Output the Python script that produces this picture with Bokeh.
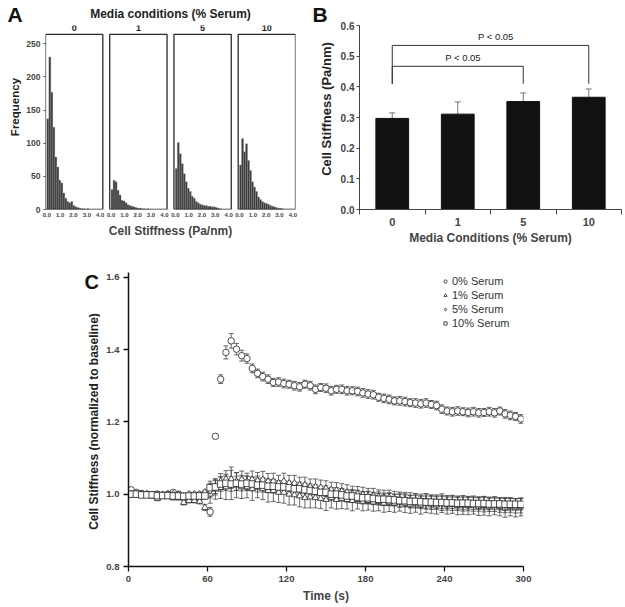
from bokeh.plotting import figure
from bokeh.models import (ColumnDataSource, FixedTicker, Label, Legend, LegendItem,
                          Whisker, TeeHead, Range1d)
from bokeh.layouts import column, row
from bokeh.embed import file_html
from bokeh.resources import INLINE

FONT = "Liberation Sans"

# ---------------- Panel A data (histograms) ----------------
serum_conditions = ["0", "1", "5", "10"]
bin_width = 0.15
hist_0 = [137, 230, 177, 124, 79, 64, 44, 40, 25, 17, 12, 10, 12, 6, 4, 3, 2, 1, 1, 0, 1]
hist_1 = [30, 44, 42, 29, 22, 14, 13, 10, 7, 6, 5, 4, 3, 2, 2, 1, 1, 0, 1]
hist_5 = [62, 101, 84, 69, 54, 42, 32, 27, 20, 17, 12, 10, 8, 7, 6, 6, 5, 5, 4, 4, 3, 2, 1]
hist_10 = [67, 107, 87, 99, 74, 59, 42, 34, 27, 19, 15, 12, 10, 9, 8, 6, 5, 4, 3, 2, 2, 1]
hists = [hist_0, hist_1, hist_5, hist_10]
freq_ticks = [0, 50, 100, 150, 200, 250]
stiff_ticks = [0, 1, 2, 3, 4]
stiff_tick_labels = ["0.0", "1.0", "2.0", "3.0", "4.0"]

# ---------------- Panel B data ----------------
serum_labels = ["0", "1", "5", "10"]
mean_stiffness = [0.297, 0.311, 0.352, 0.366]
sem_stiffness = [0.018, 0.040, 0.028, 0.027]
b_ticks = [0.0, 0.1, 0.2, 0.3, 0.4, 0.5, 0.6]
comparisons = [(0, 3), (0, 2)]
bracket_tops = [0.535, 0.467]
bracket_feet = [0.41, 0.41]
p_labels = ["P < 0.05", "P < 0.05"]

# ---------------- Panel C data ----------------
time_s = list(range(2, 300, 4))
series_names = ["0% Serum", "1% Serum", "5% Serum", "10% Serum"]
stiff_0 = [1.012, 1.005, 1.002, 1.000, 0.998, 1.000, 0.998, 1.000, 1.005, 1.000, 0.990, 0.995, 0.990, 0.990, 1.000,
           0.951, 1.160, 1.318, 1.392, 1.424, 1.401, 1.383, 1.375, 1.348, 1.334,
           1.325, 1.318, 1.309, 1.310, 1.306, 1.304, 1.300, 1.297, 1.304, 1.300,
           1.290, 1.295, 1.293, 1.286, 1.290, 1.290, 1.286, 1.286, 1.284, 1.280,
           1.277, 1.275, 1.268, 1.265, 1.262, 1.258, 1.258, 1.256, 1.253, 1.252,
           1.250, 1.252, 1.248, 1.245, 1.235, 1.230, 1.228, 1.230, 1.228, 1.226,
           1.228, 1.225, 1.226, 1.228, 1.225, 1.230, 1.222, 1.218, 1.215, 1.208]
sem_0 = [0.006, 0.005, 0.005, 0.004, 0.004, 0.005, 0.004, 0.004, 0.005, 0.004, 0.005, 0.005, 0.005, 0.005, 0.006,
         0.012, 0.005, 0.012, 0.018, 0.020, 0.016, 0.015, 0.013, 0.012, 0.012,
         0.012, 0.012, 0.011, 0.012, 0.012, 0.011, 0.012, 0.012, 0.011, 0.012,
         0.012, 0.011, 0.012, 0.012, 0.011, 0.012, 0.012, 0.011, 0.012, 0.012,
         0.012, 0.012, 0.011, 0.012, 0.012, 0.011, 0.012, 0.012, 0.011, 0.012,
         0.012, 0.012, 0.011, 0.012, 0.012, 0.011, 0.012, 0.012, 0.011, 0.012,
         0.012, 0.012, 0.011, 0.012, 0.012, 0.011, 0.012, 0.012, 0.011, 0.012]
stiff_1 = [1.000, 1.000, 0.998, 0.998, 0.995, 0.988, 0.995, 0.995, 0.990, 0.990, 0.977, 0.982, 0.982, 0.980, 0.963,
           1.000, 1.014, 1.018, 1.020, 1.030, 1.025, 1.020, 1.020, 1.015, 1.020,
           1.015, 1.010, 1.010, 1.005, 1.005, 1.000, 0.998, 0.995, 0.990, 0.992,
           0.990, 0.988, 0.985, 0.990, 0.985, 0.988, 0.985, 0.982, 0.985, 0.980,
           0.982, 0.978, 0.980, 0.975, 0.978, 0.975, 0.978, 0.975, 0.972, 0.975,
           0.970, 0.975, 0.972, 0.970, 0.975, 0.970, 0.972, 0.968, 0.970, 0.968,
           0.970, 0.966, 0.968, 0.965, 0.968, 0.965, 0.962, 0.965, 0.962, 0.965]
sem_1 = [0.005, 0.005, 0.005, 0.005, 0.005, 0.006, 0.005, 0.005, 0.006, 0.006, 0.007, 0.006, 0.006, 0.007, 0.008,
         0.025, 0.028, 0.030, 0.035, 0.045, 0.035, 0.032, 0.030, 0.032, 0.030,
         0.030, 0.032, 0.030, 0.028, 0.030, 0.030, 0.028, 0.030, 0.028, 0.030,
         0.028, 0.028, 0.030, 0.028, 0.026, 0.028, 0.026, 0.028, 0.026, 0.026,
         0.026, 0.025, 0.026, 0.025, 0.026, 0.025, 0.025, 0.026, 0.025, 0.025,
         0.025, 0.026, 0.025, 0.025, 0.026, 0.025, 0.025, 0.025, 0.026, 0.025,
         0.025, 0.025, 0.026, 0.025, 0.025, 0.025, 0.026, 0.025, 0.025, 0.025]
stiff_5 = [1.000, 1.000, 1.000, 1.000, 0.998, 1.000, 0.998, 1.000, 1.000, 0.998, 0.995, 1.000, 1.000, 1.000, 1.005,
           1.010, 1.020, 1.035, 1.041, 1.041, 1.035, 1.040, 1.035, 1.040, 1.037,
           1.040, 1.035, 1.035, 1.030, 1.035, 1.030, 1.030, 1.025, 1.025, 1.020,
           1.020, 1.018, 1.015, 1.012, 1.010, 1.008, 1.005, 1.000, 1.000, 0.998,
           0.995, 0.995, 0.992, 0.990, 0.990, 0.988, 0.985, 0.985, 0.983, 0.982,
           0.980, 0.980, 0.978, 0.978, 0.976, 0.976, 0.975, 0.975, 0.974, 0.974,
           0.973, 0.973, 0.972, 0.972, 0.972, 0.970, 0.970, 0.970, 0.968, 0.968]
sem_5 = [0.005, 0.005, 0.005, 0.005, 0.005, 0.005, 0.005, 0.005, 0.005, 0.005, 0.006, 0.005, 0.005, 0.006, 0.006,
         0.020, 0.022, 0.022, 0.024, 0.025, 0.024, 0.024, 0.023, 0.024, 0.023,
         0.023, 0.022, 0.023, 0.022, 0.023, 0.022, 0.022, 0.022, 0.022, 0.022,
         0.022, 0.021, 0.022, 0.021, 0.022, 0.021, 0.021, 0.022, 0.021, 0.021,
         0.021, 0.021, 0.020, 0.021, 0.021, 0.020, 0.021, 0.020, 0.021, 0.020,
         0.020, 0.021, 0.020, 0.020, 0.021, 0.020, 0.020, 0.020, 0.021, 0.020,
         0.020, 0.020, 0.021, 0.020, 0.020, 0.020, 0.021, 0.020, 0.020, 0.020]
stiff_10 = [1.000, 1.000, 0.998, 0.998, 0.998, 0.996, 0.996, 0.996, 0.995, 0.995, 0.994, 0.995, 0.995, 0.995, 0.995,
            1.018, 1.020, 1.028, 1.030, 1.028, 1.030, 1.028, 1.030, 1.028, 1.025,
            1.025, 1.022, 1.022, 1.020, 1.020, 1.018, 1.015, 1.015, 1.012, 1.010,
            1.008, 1.005, 1.005, 1.000, 1.000, 0.998, 0.995, 0.995, 0.992, 0.990,
            0.990, 0.988, 0.986, 0.986, 0.985, 0.984, 0.982, 0.982, 0.980, 0.980,
            0.979, 0.978, 0.978, 0.977, 0.977, 0.976, 0.976, 0.975, 0.975, 0.975,
            0.974, 0.974, 0.974, 0.973, 0.973, 0.973, 0.972, 0.972, 0.972, 0.972]
sem_10 = [0.006, 0.006, 0.005, 0.005, 0.005, 0.005, 0.005, 0.006, 0.006, 0.006, 0.006, 0.007, 0.007, 0.007, 0.008,
          0.018, 0.018, 0.020, 0.020, 0.020, 0.020, 0.019, 0.020, 0.019, 0.019,
          0.019, 0.018, 0.019, 0.018, 0.018, 0.018, 0.018, 0.018, 0.018, 0.018,
          0.018, 0.017, 0.018, 0.017, 0.018, 0.017, 0.017, 0.018, 0.017, 0.017,
          0.017, 0.017, 0.016, 0.017, 0.017, 0.016, 0.017, 0.016, 0.017, 0.016,
          0.016, 0.017, 0.016, 0.016, 0.017, 0.016, 0.016, 0.016, 0.017, 0.016,
          0.016, 0.016, 0.017, 0.016, 0.016, 0.016, 0.017, 0.016, 0.016, 0.016]
c_x_ticks = [0, 60, 120, 180, 240, 300]
c_y_ticks = [0.8, 1.0, 1.2, 1.4, 1.6]

# ---------------- layout constants (page pixels) ----------------
R1_H, R1_TOP, R1_BOT = 247, 24, 38          # row 1 height, top / bottom borders
R2_H, R2_TOP, R2_BOT = 359, 25, 40          # row 2
F1_T, F1_B = R1_TOP, R1_H - R1_BOT          # row-1 frame top/bottom (page y)
F2_T, F2_B = R1_H + R2_TOP, R1_H + R2_H - R2_BOT


def strip(x0, x1, y_top, y_bot, height, top, bottom):
    """Text-only figure; data coordinates equal page pixels."""
    s = figure(width=x1 - x0, height=height, x_range=Range1d(x0, x1), y_range=Range1d(y_bot, y_top),
               x_axis_type=None, y_axis_type=None, output_backend="svg", toolbar_location=None,
               min_border_left=0, min_border_right=0, min_border_top=top, min_border_bottom=bottom)
    s.outline_line_color = None
    s.grid.visible = False
    return s


def txt(p, x, y, text, size, bold=True, align="left", baseline="middle", angle=0, color="#111"):
    p.add_layout(Label(x=x, y=y, text=text, text_font=FONT, text_font_size=size,
                       text_font_style="bold" if bold else "normal", text_align=align,
                       text_baseline=baseline, angle=angle, angle_units="deg", text_color=color))


def letter_title(p, text, offset):
    p.title.text = text
    p.title.align = "left"
    p.title.offset = offset
    p.title.standoff = 0
    p.title.text_font = FONT
    p.title.text_font_size = "21px"
    p.title.text_font_style = "bold"
    p.title.text_color = "#111"


# ====================== Panel A ======================
stripA = strip(0, 23, F1_T, F1_B, R1_H, R1_TOP, R1_BOT)
letter_title(stripA, "A", 7)
txt(stripA, 14, 106, "Frequency", "11.5px", align="center", angle=90, color="#222")

A_LO, A_HI = -0.1, 4.2
PITCH = 4.82
A_XMAX = 18.66
A_BOX = 264
A_YEND = A_BOX + (33 - F1_T) * A_BOX / (F1_B - 33)
pA = figure(width=275, height=R1_H, x_range=Range1d(A_LO, A_XMAX), y_range=Range1d(0, A_YEND),
            output_backend="svg", toolbar_location=None,
            min_border_left=19, min_border_right=3, min_border_top=R1_TOP, min_border_bottom=R1_BOT)
pA.outline_line_color = None
pA.grid.visible = False
pA.title.text = "Media conditions (% Serum)"
pA.title.align = "center"
pA.title.standoff = 9
pA.title.text_font = FONT
pA.title.text_font_size = "12px"
pA.title.text_font_style = "bold"
pA.title.text_color = "#222"

xt, xo = [], {}
for i, h in enumerate(hists):
    off = i * PITCH
    xs = [off + bin_width * (k + 0.5) for k in range(len(h))]
    pA.vbar(x=xs, top=h, width=bin_width, bottom=0, fill_color="#3a3a3a",
            line_color="#9a9a9a", line_width=0.3)
    pA.quad(left=[off + A_LO], right=[off + A_HI], bottom=[0], top=[A_BOX],
            fill_color=None, line_color="#2a2a2a", line_width=1.3)
    txt(pA, off + (A_LO + A_HI) / 2, A_BOX + 10, serum_conditions[i], "9px",
        align="center", color="#222")
    for t, lab in zip(stiff_ticks, stiff_tick_labels):
        v = round(off + t, 4)
        xt.append(v)
        xo[v] = lab

pA.xaxis.ticker = FixedTicker(ticks=xt)
pA.xaxis.major_label_overrides = xo
pA.xaxis.axis_line_color = None
pA.xaxis.major_tick_line_color = None
pA.xaxis.major_tick_out = 0
pA.xaxis.minor_tick_line_color = None
pA.xaxis.major_label_text_font = FONT
pA.xaxis.major_label_text_font_size = "6px"
pA.xaxis.major_label_text_font_style = "bold"
pA.xaxis.major_label_standoff = 3
pA.xaxis.axis_label = "Cell Stiffness (Pa/nm)"
pA.xaxis.axis_label_text_font = FONT
pA.xaxis.axis_label_text_font_size = "12px"
pA.xaxis.axis_label_text_font_style = "bold"
pA.xaxis.axis_label_standoff = 4

pA.yaxis.ticker = FixedTicker(ticks=freq_ticks)
pA.yaxis.axis_line_color = None
pA.yaxis.major_tick_out = 2
pA.yaxis.major_tick_in = 0
pA.yaxis.major_tick_line_color = "#444"
pA.yaxis.minor_tick_line_color = None
pA.yaxis.major_label_text_font = FONT
pA.yaxis.major_label_text_font_size = "8.5px"
pA.yaxis.major_label_text_font_style = "bold"
pA.yaxis.major_label_standoff = 3

# ====================== Panel B ======================
stripB = strip(298, 337, F1_T, F1_B, R1_H, R1_TOP, R1_BOT)
letter_title(stripB, "B", 14)
txt(stripB, 326, 108, "Cell Stiffness (Pa/nm)", "13px", align="center", angle=90, color="#222")

pB = figure(width=287, height=R1_H, x_range=Range1d(0, 4), y_range=Range1d(0, 0.6),
            output_backend="svg", toolbar_location=None,
            min_border_left=20, min_border_right=3, min_border_top=R1_TOP, min_border_bottom=R1_BOT)
pB.outline_line_color = None
pB.grid.visible = False
bx = [i + 0.5 for i in range(len(serum_labels))]
srcB = ColumnDataSource(dict(x=bx, y=mean_stiffness,
                             up=[m + s for m, s in zip(mean_stiffness, sem_stiffness)]))
pB.add_layout(Whisker(source=srcB, base="x", lower="y", upper="up", line_color="#777",
                      line_width=1, lower_head=None,
                      upper_head=TeeHead(size=6, line_color="#777", line_width=1)))
pB.vbar(x="x", top="y", width=0.5, source=srcB, fill_color="#111111", line_color="#111111")

for (a, b), top, foot, lab in zip(comparisons, bracket_tops, bracket_feet, p_labels):
    pB.line(x=[bx[a], bx[a], bx[b], bx[b]], y=[foot, top, top, foot], line_color="#333", line_width=1)
    txt(pB, (bx[a] + bx[b]) / 2 + 0.08, top + 0.01, lab, "9.5px", bold=False, align="center",
        baseline="bottom", color="#222")

pB.xaxis.ticker = FixedTicker(ticks=bx, minor_ticks=[0, 1, 2, 3, 4])
pB.xaxis.major_label_overrides = {v: l for v, l in zip(bx, serum_labels)}
pB.xaxis.major_tick_line_color = None
pB.xaxis.major_tick_out = 5
pB.xaxis.minor_tick_out = 5
pB.xaxis.minor_tick_in = 0
pB.xaxis.minor_tick_line_color = "#444"
pB.xaxis.axis_line_color = "#444"
pB.xaxis.major_label_standoff = 3
pB.xaxis.major_label_text_font = FONT
pB.xaxis.major_label_text_font_size = "11px"
pB.xaxis.major_label_text_font_style = "bold"
pB.xaxis.axis_label = "Media Conditions (% Serum)"
pB.xaxis.axis_label_text_font = FONT
pB.xaxis.axis_label_text_font_size = "12px"
pB.xaxis.axis_label_text_font_style = "bold"
pB.xaxis.axis_label_standoff = 2

pB.yaxis.ticker = FixedTicker(ticks=b_ticks)
pB.yaxis.major_label_overrides = {v: f"{v:.1f}" for v in b_ticks}
pB.yaxis.axis_line_color = "#444"
pB.yaxis.major_tick_out = 3
pB.yaxis.major_tick_in = 0
pB.yaxis.major_tick_line_color = "#444"
pB.yaxis.minor_tick_line_color = None
pB.yaxis.major_label_text_font = FONT
pB.yaxis.major_label_text_font_size = "10px"
pB.yaxis.major_label_text_font_style = "bold"
pB.yaxis.major_label_standoff = 2

# ====================== Panel C ======================
stripC = strip(0, 100, F2_T, F2_B, R2_H, R2_TOP, R2_BOT)
txt(stripC, 84, F2_T + 9, "C", "20px")
txt(stripC, 93, 421, "Cell Stiffness (normalized to baseline)", "12px", align="center",
    angle=90, color="#222")

C_YEND = 1.6 + (276.7 - F2_T) * 0.8 / (F2_B - 276.7)
pC = figure(width=524, height=R2_H, x_range=Range1d(0, 300), y_range=Range1d(0.8, C_YEND),
            output_backend="svg", toolbar_location=None,
            min_border_left=28, min_border_right=101, min_border_top=R2_TOP, min_border_bottom=R2_BOT)
pC.outline_line_color = None
pC.grid.visible = False

markers = ["circle", "triangle", "diamond", "square"]
sizes = [6.5, 6.5, 7.5, 6.5]
all_y = [stiff_0, stiff_1, stiff_5, stiff_10]
all_e = [sem_0, sem_1, sem_5, sem_10]
items = []
for name, mk, sz, ys, es in zip(series_names, markers, sizes, all_y, all_e):
    src = ColumnDataSource(dict(t=time_s, y=ys, lo=[a - b for a, b in zip(ys, es)],
                                hi=[a + b for a, b in zip(ys, es)]))
    pC.add_layout(Whisker(source=src, base="t", lower="lo", upper="hi", line_color="#444",
                          line_width=0.8,
                          lower_head=TeeHead(size=5, line_color="#444", line_width=0.8),
                          upper_head=TeeHead(size=5, line_color="#444", line_width=0.8)))
    r = pC.scatter(x="t", y="y", source=src, marker=mk, size=sz, fill_color="white",
                   line_color="#222", line_width=0.8)
    items.append(LegendItem(label=name, renderers=[r]))

leg = Legend(items=items, location=(313, 236), label_text_font=FONT, label_text_font_size="11px",
             label_text_color="#333", glyph_width=8, glyph_height=14, label_height=14,
             label_standoff=3, spacing=0, padding=0, margin=0, border_line_color=None,
             background_fill_alpha=0)
pC.add_layout(leg)

pC.xaxis.ticker = FixedTicker(ticks=c_x_ticks)
pC.yaxis.ticker = FixedTicker(ticks=c_y_ticks)
pC.yaxis.major_label_overrides = {v: f"{v:.1f}" for v in c_y_ticks}
for ax in (pC.xaxis, pC.yaxis):
    ax.axis_line_color = "#111"
    ax.axis_line_width = 1.5
    ax.major_tick_out = 5
    ax.major_tick_in = 0
    ax.major_tick_line_width = 1.3
    ax.major_tick_line_color = "#111"
    ax.minor_tick_line_color = None
    ax.major_label_text_font = FONT
    ax.major_label_text_font_size = "9.5px"
    ax.major_label_text_font_style = "bold"
    ax.major_label_standoff = 4
    ax.axis_label_text_font = FONT
    ax.axis_label_text_font_size = "12px"
    ax.axis_label_text_font_style = "bold"
pC.xaxis.axis_label = "Time (s)"
pC.xaxis.axis_label_standoff = 4

layout = column(row(stripA, pA, stripB, pB, spacing=0), row(stripC, pC, spacing=0), spacing=0)
open("out.html", "w").write(file_html(layout, INLINE))
